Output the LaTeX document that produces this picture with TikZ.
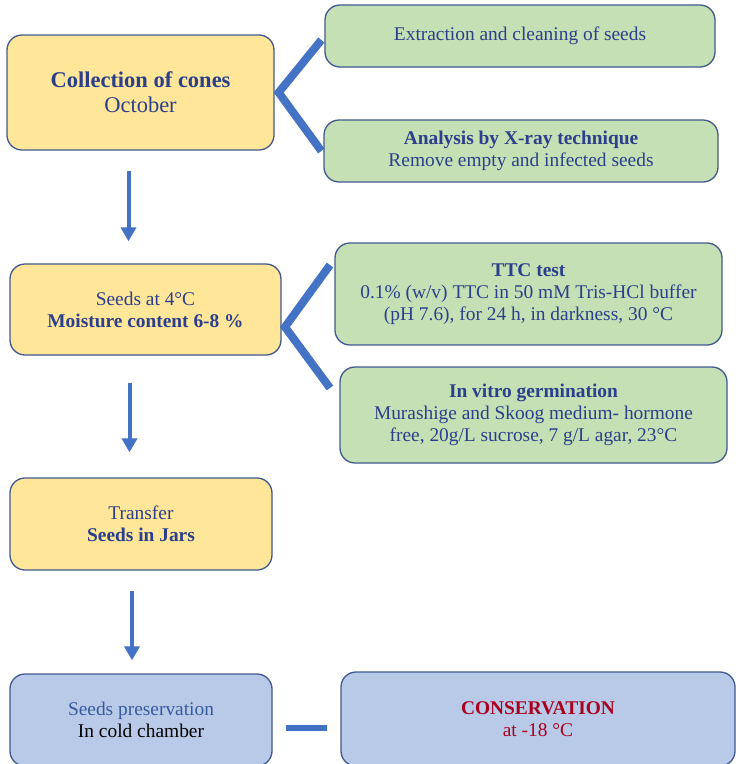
\documentclass[tikz,border=0pt]{standalone}
\usepackage{fontspec}
\setmainfont{Liberation Serif}
\usetikzlibrary{arrows.meta}
\definecolor{conefill}{HTML}{FFE699}
\definecolor{stepfill}{HTML}{C5E0B4}
\definecolor{keepfill}{HTML}{B9CAE8}
\definecolor{edge}{HTML}{41598F}
\definecolor{ink}{HTML}{2B3F8C}
\definecolor{flowblue}{HTML}{4472C4}
\definecolor{conred}{HTML}{A8001E}

\begin{document}
\begin{tikzpicture}[x=1pt,y=-1pt,
    box/.style={draw=edge,line width=1.3pt,rounded corners=15pt,align=center,
      inner sep=0pt,text=ink,font=\fontsize{19.4}{22}\selectfont},
    yellowbox/.style={box,fill=conefill},
    greenbox/.style={box,fill=stepfill},
    bluebox/.style={box,fill=keepfill},
    flow/.style={draw=flowblue,line width=4pt,-{Triangle[width=15pt,length=14pt]}},
    bracket/.style={draw=flowblue,line width=8pt,line join=miter}]
      \useasboundingbox (0,0) rectangle (739,764);
      % left column
      \node[yellowbox,minimum width=267pt,minimum height=115pt,
        font=\fontsize{22.5}{25}\selectfont] (cones) at (140.5,92.5)
        {\textbf{Collection of cones}\\October};
      \node[yellowbox,minimum width=271pt,minimum height=91pt] (seeds) at (145.5,309.5)
        {Seeds at 4°C\\\textbf{Moisture content 6-8 \%}};
      \node[yellowbox,minimum width=262pt,minimum height=92pt] (jars) at (141,524)
        {Transfer\\\textbf{Seeds in Jars}};
      \node[bluebox,minimum width=262pt,minimum height=92pt] (pres) at (141,720)
        {\textcolor{flowblue!80!black}{Seeds preservation}\\\textcolor{black}{In cold chamber}};
      % right column
      \node[greenbox,minimum width=390pt,minimum height=62pt] (extract) at (520,36)
        {Extraction and cleaning of seeds};
      \node[greenbox,minimum width=394pt,minimum height=62pt] (xray) at (521,151)
        {\textbf{Analysis by X-ray technique}\\Remove empty and infected seeds};
      \node[greenbox,minimum width=387pt,minimum height=102pt] (ttc) at (528.5,294)
        {\textbf{TTC test}\\0.1\% (w/v) TTC in 50 mM Tris-HCl buffer\\(pH 7.6), for 24 h, in darkness, 30 °C};
      \node[greenbox,minimum width=387pt,minimum height=96pt] (vitro) at (533.5,415)
        {\textbf{In vitro germination}\\Murashige and Skoog medium- hormone\\free, 20g/L sucrose, 7 g/L agar, 23°C};
      \node[bluebox,minimum width=394pt,minimum height=94pt,text=conred] (cons) at (538,719)
        {\textbf{CONSERVATION}\\at -18 °C};
      % brackets
      \coordinate (ttctop) at (330,265);
      \coordinate (vitrobot) at (330,388);
      \coordinate (tip) at (285,327);
      \draw[bracket] ([xshift=-3pt,yshift=-4pt]extract.west) -- ([xshift=4pt]cones.east)
        -- ([xshift=-2pt]xray.west);
      \draw[bracket] (ttctop) -- (tip) -- (vitrobot);
      % arrows
      \draw[flow,shorten <=20pt,shorten >=22pt] ([xshift=-12pt]cones.south)
        -- ([xshift=-12pt]cones.south |- seeds.north);
      \draw[flow,shorten <=27pt,shorten >=25pt] ([xshift=-16pt]seeds.south)
        -- ([xshift=-16pt]seeds.south |- jars.north);
      \draw[flow,shorten <=20pt,shorten >=13pt] ([xshift=-9pt]jars.south)
        -- ([xshift=-9pt]jars.south |- pres.north);
      \draw[bracket,line width=6pt,shorten <=13pt,shorten >=13pt] ([yshift=-8pt]pres.east)
        -- ([yshift=-8pt]pres.east -| cons.west);
\end{tikzpicture}
\end{document}
